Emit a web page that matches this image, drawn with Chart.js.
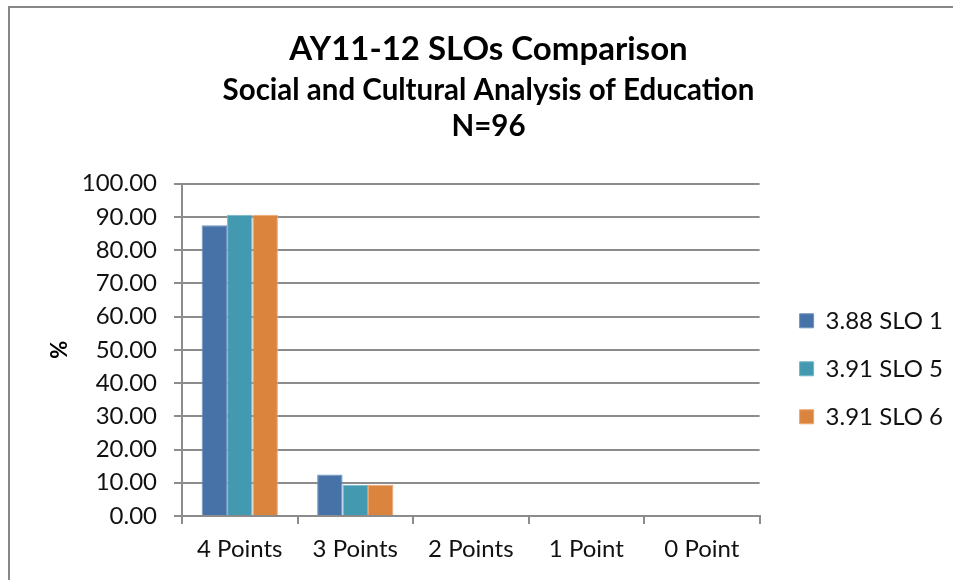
<!DOCTYPE html>
<html lang="en">
<head>
    <meta charset="UTF-8">
    <title>AY11-12 SLOs Comparison</title>
    <script src="https://cdn.jsdelivr.net/npm/chart.js"></script>
    <style>
        body { margin: 0; background: #fff; font-family: Lato, sans-serif; overflow: hidden; }
        .frame { position: absolute; left: 8px; top: 6px; width: 1000px; height: 640px; border: 2px solid #878787; }
        .chart-box { position: absolute; left: 0; top: 0; width: 953px; height: 580px; }
    </style>
</head>
<body>
    <div class="frame"></div>
    <div class="chart-box">
        <canvas id="sloChart" width="953" height="580"></canvas>
    </div>

    <script>
        // data
        const categories = ['4 Points', '3 Points', '2 Points', '1 Point', '0 Point'];
        const slo1 = [87.50, 12.50, 0, 0, 0];
        const slo5 = [90.63, 9.38, 0, 0, 0];
        const slo6 = [90.63, 9.38, 0, 0, 0];
        const seriesNames = ['3.88 SLO 1', '3.91 SLO 5', '3.91 SLO 6'];
        const yTicks = [0, 10, 20, 30, 40, 50, 60, 70, 80, 90, 100];

        const colors = ['#4672a8', '#4399b0', '#db843d'];
        const edges = ['#6f93c0', '#74b6c8', '#eda56d'];
        const gridColor = '#8c8c8c';

        const padLeft = 40;
        const padRight = 16;

        // push the legend a bit away from the plot, like the original
        const legendNudge = {
            id: 'legendNudge',
            afterLayout(chart) {
                const lg = chart.legend;
                const shift = chart.chartArea.right + 16 - lg.left;
                lg.left += shift;
                lg.right += shift;
            }
        };

        const ctx = document.getElementById('sloChart').getContext('2d');
        new Chart(ctx, {
            type: 'bar',
            data: {
                labels: categories,
                datasets: [slo1, slo5, slo6].map((vals, i) => ({
                    label: seriesNames[i],
                    data: vals,
                    backgroundColor: colors[i],
                    borderColor: edges[i],
                    borderWidth: 1,
                    categoryPercentage: 0.66,
                    barPercentage: 1
                }))
            },
            options: {
                responsive: false,
                animation: false,
                layout: { padding: { top: 20, left: padLeft, right: padRight, bottom: 0 } },
                plugins: {
                    title: {
                        display: true,
                        text: 'AY11-12 SLOs Comparison',
                        color: '#000',
                        font: { family: 'Lato', size: 33, weight: 'bold', lineHeight: 1.2 },
                        padding: { top: 10, bottom: 0 }
                    },
                    subtitle: {
                        display: true,
                        text: ['Social and Cultural Analysis of Education', 'N=96'],
                        color: '#000',
                        font: { family: 'Lato', size: 29.5, weight: 'bold', lineHeight: 1.22 },
                        padding: { top: 3, bottom: 39 }
                    },
                    legend: {
                        position: 'right',
                        fullSize: false,
                        title: {
                            display: true,
                            text: '',
                            font: { size: 12, lineHeight: 1 },
                            padding: { top: 26, bottom: 0 }
                        },
                        labels: {
                            color: '#111',
                            font: { family: 'Lato', size: 24 },
                            boxWidth: 14,
                            boxHeight: 14,
                            padding: 24
                        }
                    },
                    tooltip: { enabled: false }
                },
                scales: {
                    x: {
                        grid: {
                            display: true,
                            drawOnChartArea: false,
                            color: gridColor,
                            lineWidth: 2,
                            tickLength: 8,
                            offset: true
                        },
                        border: { color: gridColor, width: 2 },
                        ticks: {
                            color: '#111',
                            font: { family: 'Lato', size: 24 },
                            padding: 11,
                            maxRotation: 0
                        },
                        afterFit: scale => { scale.height = 64; }
                    },
                    y: {
                        min: 0,
                        max: 100,
                        afterBuildTicks: scale => { scale.ticks = yTicks.map(v => ({ value: v })); },
                        grid: { color: gridColor, lineWidth: 2, tickLength: 8 },
                        border: { color: gridColor, width: 2 },
                        ticks: {
                            color: '#111',
                            font: { family: 'Lato', size: 24 },
                            padding: 17,
                            callback: v => v.toFixed(2)
                        },
                        title: {
                            display: true,
                            text: '%',
                            color: '#000',
                            font: { family: 'Lato', size: 22, weight: 'bold' },
                            padding: { top: 7, bottom: 0 }
                        },
                        afterFit: scale => { scale.width = 182 - padLeft; }
                    }
                }
            },
            plugins: [legendNudge]
        });
    </script>
</body>
</html>
